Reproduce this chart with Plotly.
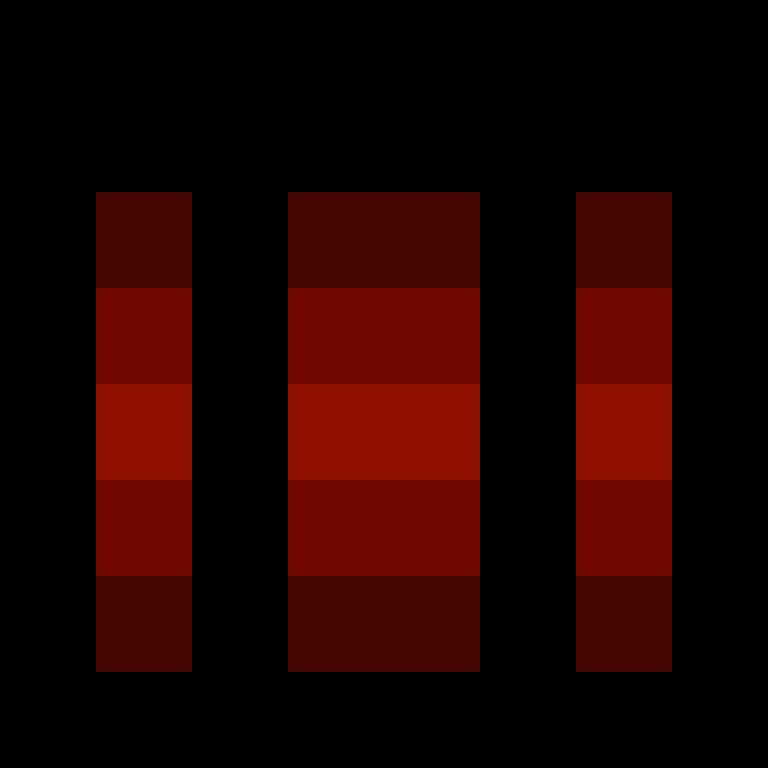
import plotly.graph_objects as go

# 8x8 grid, top row first; 0 = background, 1..3 = intensity level
cols = list(range(8))
rows = list(range(8))
levels = [
    [0, 0, 0, 0, 0, 0, 0, 0],
    [0, 0, 0, 0, 0, 0, 0, 0],
    [0, 1, 0, 1, 1, 0, 1, 0],
    [0, 2, 0, 2, 2, 0, 2, 0],
    [0, 3, 0, 3, 3, 0, 3, 0],
    [0, 2, 0, 2, 2, 0, 2, 0],
    [0, 1, 0, 1, 1, 0, 1, 0],
    [0, 0, 0, 0, 0, 0, 0, 0],
]
level_colors = ["#000000", "#450500", "#720900", "#8f0f00"]

scale = [[i / 3, c] for i, c in enumerate(level_colors)]

fig = go.Figure(go.Heatmap(
    z=levels,
    x=cols,
    y=rows,
    zmin=0,
    zmax=3,
    colorscale=scale,
    showscale=False,
    hoverinfo="skip",
))

fig.update_xaxes(visible=False, range=[-0.5, 7.5])
fig.update_yaxes(visible=False, range=[7.5, -0.5])
fig.update_layout(
    width=768,
    height=768,
    margin=dict(l=0, r=0, t=0, b=0),
    paper_bgcolor="black",
    plot_bgcolor="black",
)

# drop the browser's default page margin so the chart fills the window
fig.write_html(
    "out.html",
    config={"displayModeBar": False},
    post_script="document.body.style.margin='0';document.body.style.background='black';",
)
